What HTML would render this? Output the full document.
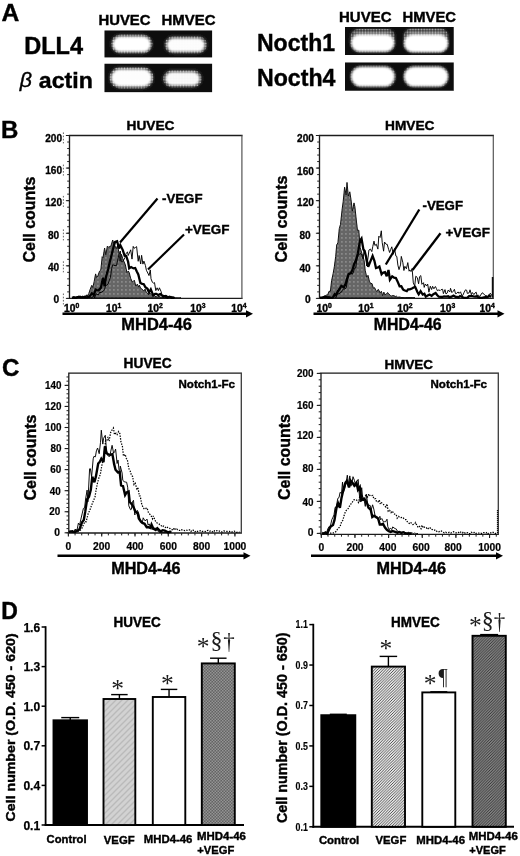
<!DOCTYPE html>
<html lang="en"><head><meta charset="utf-8"><title>Figure</title>
<style>
html,body{margin:0;padding:0;background:#fff;}
body{width:520px;height:856px;overflow:hidden;}
svg{display:block;font-family:"Liberation Sans", Arial, Helvetica, sans-serif;font-weight:bold;}
text{stroke:#000;stroke-width:0.4px;}
</style></head><body>
<svg width="520" height="856" viewBox="0 0 520 856">
<defs>
<filter id="b1" x="-20%" y="-40%" width="140%" height="180%"><feGaussianBlur stdDeviation="1.3"/></filter>
<filter id="b2" x="-20%" y="-40%" width="140%" height="180%"><feGaussianBlur stdDeviation="2.2"/></filter>
<filter id="b3" x="-20%" y="-40%" width="140%" height="180%"><feGaussianBlur stdDeviation="0.6"/></filter>
<pattern id="ht" width="2.8" height="2.8" patternUnits="userSpaceOnUse"><circle cx="1.4" cy="1.4" r="0.95" fill="#fff"/></pattern>
<filter id="soft" x="0" y="0" width="100%" height="100%" filterUnits="userSpaceOnUse"><feGaussianBlur stdDeviation="0.45"/></filter>
<clipPath id="cA1"><rect x="104.5" y="30.5" width="107.6" height="26.9"/></clipPath>
<clipPath id="cA2"><rect x="104.5" y="63.75" width="107.6" height="28.4"/></clipPath>
<clipPath id="cA3"><rect x="345" y="27" width="108.75" height="28"/></clipPath>
<clipPath id="cA4"><rect x="345" y="62.5" width="108.75" height="28.25"/></clipPath>
<pattern id="dots" width="4" height="4" patternUnits="userSpaceOnUse"><rect width="4" height="4" fill="#666"/><rect x="1.2" y="1.2" width="1.4" height="1.4" fill="#9c9c9c"/></pattern>
<pattern id="chk" width="3" height="3" patternUnits="userSpaceOnUse"><rect width="3" height="3" fill="#646464"/><rect width="1.5" height="1.5" fill="#949494"/><rect x="1.5" y="1.5" width="1.5" height="1.5" fill="#949494"/></pattern>
<pattern id="hL" width="6" height="6" patternUnits="userSpaceOnUse"><rect width="6" height="6" fill="#d2d2d2"/><path d="M-1.5,1.5 L1.5,-1.5 M-1,7 L7,-1 M4.5,7.5 L7.5,4.5" stroke="#bababa" stroke-width="1.4"/></pattern>
<pattern id="hM" width="2.8" height="2.8" patternUnits="userSpaceOnUse"><rect width="2.8" height="2.8" fill="#ebebeb"/><path d="M-0.7,0.7 L0.7,-0.7 M-0.5,3.3 L3.3,-0.5 M2.1,3.5 L3.5,2.1" stroke="#383838" stroke-width="0.85"/></pattern>
<pattern id="hD" width="2.8" height="2.8" patternUnits="userSpaceOnUse"><rect width="2.8" height="2.8" fill="#a0a0a0"/><path d="M-0.7,0.7 L0.7,-0.7 M-0.5,3.3 L3.3,-0.5 M2.1,3.5 L3.5,2.1" stroke="#2e2e2e" stroke-width="1.0"/></pattern>
</defs>
<rect width="520" height="856" fill="#fff"/>
<g filter="url(#soft)">
<text x="1.60" y="20.60" font-size="24.5" textLength="17.80" lengthAdjust="spacingAndGlyphs">A</text>
<text x="98.50" y="24.90" font-size="15" textLength="52.00" lengthAdjust="spacingAndGlyphs">HUVEC</text>
<text x="161.50" y="24.90" font-size="15" textLength="54.00" lengthAdjust="spacingAndGlyphs">HMVEC</text>
<text x="24.20" y="54.10" font-size="23.7" textLength="58.80" lengthAdjust="spacingAndGlyphs">DLL4</text>
<text x="19.8" y="87" font-size="20.5" font-weight="normal" font-style="italic" textLength="12.2" lengthAdjust="spacingAndGlyphs">β</text>
<text x="38.80" y="88.10" font-size="21.3" textLength="54.00" lengthAdjust="spacingAndGlyphs">actin</text>
<rect x="104.50" y="30.50" width="107.60" height="26.90" fill="#0a0a0a" />
<rect x="104.50" y="63.75" width="107.60" height="28.40" fill="#0a0a0a" />
<g clip-path="url(#cA1)">
<rect x="111.50" y="35.00" width="40.50" height="18.00" rx="9.00" fill="#fff" opacity="0.33" filter="url(#b2)"/>
<rect x="111.00" y="34.60" width="41.50" height="18.80" rx="9.40" fill="url(#ht)" opacity="0.75" filter="url(#b3)"/>
<rect x="165.00" y="36.50" width="41.50" height="16.50" rx="8.25" fill="#fff" opacity="0.30" filter="url(#b2)"/>
<rect x="164.50" y="36.10" width="42.50" height="17.30" rx="8.65" fill="url(#ht)" opacity="0.69" filter="url(#b3)"/>
<rect x="113.00" y="36.80" width="37.50" height="14.80" rx="7.40" fill="#fff" opacity="1.0" filter="url(#b1)"/>
<rect x="167.00" y="38.60" width="37.50" height="13.00" rx="6.50" fill="#fff" opacity="0.98" filter="url(#b1)"/>
</g><g clip-path="url(#cA2)">
<rect x="110.00" y="67.50" width="43.00" height="20.50" rx="10.25" fill="#fff" opacity="0.33" filter="url(#b2)"/>
<rect x="109.50" y="67.10" width="44.00" height="21.30" rx="10.65" fill="url(#ht)" opacity="0.75" filter="url(#b3)"/>
<rect x="163.50" y="70.50" width="38.00" height="16.50" rx="8.25" fill="#fff" opacity="0.30" filter="url(#b2)"/>
<rect x="163.00" y="70.10" width="39.00" height="17.30" rx="8.65" fill="url(#ht)" opacity="0.69" filter="url(#b3)"/>
<rect x="111.50" y="69.60" width="40.00" height="16.70" rx="8.35" fill="#fff" opacity="0.99" filter="url(#b1)"/>
<rect x="165.50" y="72.30" width="34.00" height="12.90" rx="6.45" fill="#fff" opacity="0.95" filter="url(#b1)"/>
</g>
<text x="339.00" y="22.30" font-size="15.3" textLength="52.50" lengthAdjust="spacingAndGlyphs">HUVEC</text>
<text x="402.50" y="22.30" font-size="15.3" textLength="53.50" lengthAdjust="spacingAndGlyphs">HMVEC</text>
<text x="257.00" y="51.30" font-size="23.5" textLength="78.00" lengthAdjust="spacingAndGlyphs">Nocth1</text>
<text x="257.00" y="86.30" font-size="23.5" textLength="78.50" lengthAdjust="spacingAndGlyphs">Nocth4</text>
<rect x="345.00" y="27.00" width="108.75" height="28.00" fill="#0a0a0a" />
<rect x="345.00" y="62.50" width="108.75" height="28.25" fill="#0a0a0a" />
<g clip-path="url(#cA3)">
<rect x="351.00" y="29.50" width="43.50" height="14.50" rx="7.25" fill="#fff" opacity="0.28" filter="url(#b2)"/>
<rect x="350.50" y="29.10" width="44.50" height="15.30" rx="7.65" fill="url(#ht)" opacity="0.62" filter="url(#b3)"/>
<rect x="404.00" y="29.00" width="44.00" height="15.00" rx="7.50" fill="#fff" opacity="0.28" filter="url(#b2)"/>
<rect x="403.50" y="28.60" width="45.00" height="15.80" rx="7.90" fill="url(#ht)" opacity="0.62" filter="url(#b3)"/>
<rect x="350.50" y="34.00" width="44.50" height="18.20" rx="9.10" fill="#fff" opacity="0.22" filter="url(#b2)"/>
<rect x="350.00" y="33.60" width="45.50" height="19.00" rx="9.50" fill="url(#ht)" opacity="0.50" filter="url(#b3)"/>
<rect x="403.50" y="34.00" width="45.00" height="18.80" rx="9.40" fill="#fff" opacity="0.22" filter="url(#b2)"/>
<rect x="403.00" y="33.60" width="46.00" height="19.60" rx="9.80" fill="url(#ht)" opacity="0.50" filter="url(#b3)"/>
<rect x="351.30" y="34.80" width="42.90" height="16.60" rx="8.30" fill="#fff" opacity="1.0" filter="url(#b1)"/>
<rect x="404.30" y="34.80" width="43.70" height="17.20" rx="8.60" fill="#fff" opacity="1.0" filter="url(#b1)"/>
</g><g clip-path="url(#cA4)">
<rect x="350.50" y="66.00" width="45.00" height="21.00" rx="10.50" fill="#fff" opacity="0.22" filter="url(#b2)"/>
<rect x="350.00" y="65.60" width="46.00" height="21.80" rx="10.90" fill="url(#ht)" opacity="0.50" filter="url(#b3)"/>
<rect x="403.50" y="66.00" width="45.00" height="21.00" rx="10.50" fill="#fff" opacity="0.22" filter="url(#b2)"/>
<rect x="403.00" y="65.60" width="46.00" height="21.80" rx="10.90" fill="url(#ht)" opacity="0.50" filter="url(#b3)"/>
<rect x="351.30" y="67.00" width="43.20" height="19.20" rx="9.60" fill="#fff" opacity="1.0" filter="url(#b1)"/>
<rect x="404.30" y="67.00" width="43.70" height="19.20" rx="9.60" fill="#fff" opacity="1.0" filter="url(#b1)"/>
</g>
<text x="1.00" y="137.50" font-size="24">B</text>
<path d="M241.90,135.50 L69.50,135.50 L69.50,298.40 L241.90,298.40" fill="none" stroke="#1a1a1a" stroke-width="1.3" stroke-linecap="square"/>
<line x1="241.90" y1="135.50" x2="241.90" y2="298.40" stroke="#555" stroke-width="1.2" />
<line x1="65.90" y1="298.40" x2="69.50" y2="298.40" stroke="#1a1a1a" stroke-width="1" />
<text x="59.20" y="303.15" font-size="10.2" text-anchor="end" style="stroke-width:0.3px">0</text>
<line x1="63.40" y1="293.50" x2="63.40" y2="304.50" stroke="#555" stroke-width="0.9" stroke-dasharray="1.6 1.6"/>
<line x1="65.90" y1="265.82" x2="69.50" y2="265.82" stroke="#1a1a1a" stroke-width="1" />
<text x="59.20" y="270.95" font-size="10.2" text-anchor="end" textLength="11.23" lengthAdjust="spacingAndGlyphs" style="stroke-width:0.3px">40</text>
<line x1="63.40" y1="261.30" x2="63.40" y2="272.30" stroke="#555" stroke-width="0.9" stroke-dasharray="1.6 1.6"/>
<line x1="65.90" y1="233.24" x2="69.50" y2="233.24" stroke="#1a1a1a" stroke-width="1" />
<text x="59.20" y="239.05" font-size="10.2" text-anchor="end" textLength="11.23" lengthAdjust="spacingAndGlyphs" style="stroke-width:0.3px">80</text>
<line x1="63.40" y1="229.40" x2="63.40" y2="240.40" stroke="#555" stroke-width="0.9" stroke-dasharray="1.6 1.6"/>
<line x1="65.90" y1="200.66" x2="69.50" y2="200.66" stroke="#1a1a1a" stroke-width="1" />
<text x="62.00" y="205.55" font-size="10.2" text-anchor="end" textLength="16.84" lengthAdjust="spacingAndGlyphs" style="stroke-width:0.3px">120</text>
<line x1="63.40" y1="195.90" x2="63.40" y2="206.90" stroke="#555" stroke-width="0.9" stroke-dasharray="1.6 1.6"/>
<line x1="65.90" y1="168.08" x2="69.50" y2="168.08" stroke="#1a1a1a" stroke-width="1" />
<text x="62.00" y="174.25" font-size="10.2" text-anchor="end" textLength="16.84" lengthAdjust="spacingAndGlyphs" style="stroke-width:0.3px">160</text>
<line x1="63.40" y1="164.60" x2="63.40" y2="175.60" stroke="#555" stroke-width="0.9" stroke-dasharray="1.6 1.6"/>
<line x1="65.90" y1="135.50" x2="69.50" y2="135.50" stroke="#1a1a1a" stroke-width="1" />
<text x="62.00" y="142.05" font-size="10.2" text-anchor="end" textLength="16.84" lengthAdjust="spacingAndGlyphs" style="stroke-width:0.3px">200</text>
<line x1="63.40" y1="132.40" x2="63.40" y2="143.40" stroke="#555" stroke-width="0.9" stroke-dasharray="1.6 1.6"/>
<line x1="67.20" y1="298.40" x2="69.50" y2="298.40" stroke="#222" stroke-width="1.0" />
<line x1="67.20" y1="291.88" x2="69.50" y2="291.88" stroke="#222" stroke-width="1.0" />
<line x1="67.20" y1="285.37" x2="69.50" y2="285.37" stroke="#222" stroke-width="1.0" />
<line x1="67.20" y1="278.85" x2="69.50" y2="278.85" stroke="#222" stroke-width="1.0" />
<line x1="67.20" y1="272.34" x2="69.50" y2="272.34" stroke="#222" stroke-width="1.0" />
<line x1="67.20" y1="265.82" x2="69.50" y2="265.82" stroke="#222" stroke-width="1.0" />
<line x1="67.20" y1="259.30" x2="69.50" y2="259.30" stroke="#222" stroke-width="1.0" />
<line x1="67.20" y1="252.79" x2="69.50" y2="252.79" stroke="#222" stroke-width="1.0" />
<line x1="67.20" y1="246.27" x2="69.50" y2="246.27" stroke="#222" stroke-width="1.0" />
<line x1="67.20" y1="239.76" x2="69.50" y2="239.76" stroke="#222" stroke-width="1.0" />
<line x1="67.20" y1="233.24" x2="69.50" y2="233.24" stroke="#222" stroke-width="1.0" />
<line x1="67.20" y1="226.72" x2="69.50" y2="226.72" stroke="#222" stroke-width="1.0" />
<line x1="67.20" y1="220.21" x2="69.50" y2="220.21" stroke="#222" stroke-width="1.0" />
<line x1="67.20" y1="213.69" x2="69.50" y2="213.69" stroke="#222" stroke-width="1.0" />
<line x1="67.20" y1="207.18" x2="69.50" y2="207.18" stroke="#222" stroke-width="1.0" />
<line x1="67.20" y1="200.66" x2="69.50" y2="200.66" stroke="#222" stroke-width="1.0" />
<line x1="67.20" y1="194.14" x2="69.50" y2="194.14" stroke="#222" stroke-width="1.0" />
<line x1="67.20" y1="187.63" x2="69.50" y2="187.63" stroke="#222" stroke-width="1.0" />
<line x1="67.20" y1="181.11" x2="69.50" y2="181.11" stroke="#222" stroke-width="1.0" />
<line x1="67.20" y1="174.60" x2="69.50" y2="174.60" stroke="#222" stroke-width="1.0" />
<line x1="67.20" y1="168.08" x2="69.50" y2="168.08" stroke="#222" stroke-width="1.0" />
<line x1="67.20" y1="161.56" x2="69.50" y2="161.56" stroke="#222" stroke-width="1.0" />
<line x1="67.20" y1="155.05" x2="69.50" y2="155.05" stroke="#222" stroke-width="1.0" />
<line x1="67.20" y1="148.53" x2="69.50" y2="148.53" stroke="#222" stroke-width="1.0" />
<line x1="67.20" y1="142.02" x2="69.50" y2="142.02" stroke="#222" stroke-width="1.0" />
<line x1="67.20" y1="135.50" x2="69.50" y2="135.50" stroke="#222" stroke-width="1.0" />
<text x="126.50" y="130.00" font-size="13.6" textLength="48.00" lengthAdjust="spacingAndGlyphs">HUVEC</text>
<text transform="translate(35.30,219.50) rotate(-90)" font-size="16.2" text-anchor="middle" textLength="86.00" lengthAdjust="spacingAndGlyphs">Cell counts</text>
<text x="64.00" y="312.00" font-size="10.3">10<tspan dy="-3.6" font-size="6.8">0</tspan></text>
<text x="106.00" y="312.00" font-size="10.3">10<tspan dy="-3.6" font-size="6.8">1</tspan></text>
<text x="147.60" y="312.00" font-size="10.3">10<tspan dy="-3.6" font-size="6.8">2</tspan></text>
<text x="190.30" y="312.00" font-size="10.3">10<tspan dy="-3.6" font-size="6.8">3</tspan></text>
<text x="231.20" y="312.00" font-size="10.3">10<tspan dy="-3.6" font-size="6.8">4</tspan></text>
<line x1="62.50" y1="313.80" x2="247.00" y2="313.80" stroke="#000" stroke-width="2.5" />
<polygon points="253.00,313.80 246.00,310.20 246.00,317.40" fill="#000"/>
<text x="121.30" y="330.20" font-size="16.7" textLength="70.50" lengthAdjust="spacingAndGlyphs">MHD4-46</text>
<polygon points="76.0,297.8 76.0,297.8 77.4,297.6 78.5,297.4 80.2,296.9 81.2,297.6 82.6,296.9 84.1,297.2 85.3,296.4 86.4,295.2 87.9,295.4 88.8,293.5 90.2,289.3 91.8,285.3 92.8,287.5 94.2,281.4 95.6,273.9 96.6,277.5 97.8,276.1 99.5,271.2 100.8,270.0 102.2,256.7 103.0,257.7 104.6,248.0 105.8,254.8 107.4,246.0 108.7,247.4 110.0,246.3 110.8,246.3 112.7,240.0 113.9,244.0 114.9,245.9 116.3,248.7 117.6,245.4 119.0,253.2 120.0,261.1 121.4,254.3 122.7,258.4 124.0,261.5 125.4,265.0 126.9,272.6 128.3,271.0 129.3,272.9 130.6,278.2 132.2,281.8 133.0,281.7 134.3,280.2 135.8,286.0 137.4,284.1 138.5,287.1 139.4,285.1 140.7,288.4 142.2,289.2 143.7,291.1 145.1,289.1 146.3,292.3 147.2,293.2 148.8,294.5 149.9,293.2 151.5,294.7 152.5,295.4 153.7,294.9 155.0,296.3 156.4,296.6 157.7,296.9 159.2,296.3 160.6,297.2 161.6,297.2 163.3,297.6 164.2,297.1 165.9,297.8 166.8,297.2 168.5,297.5 169.8,297.6 170.9,297.6 172.1,297.7 173.4,297.7 174.8,297.8 174.8,297.8" fill="url(#dots)" stroke="#111" stroke-width="1.0" stroke-linejoin="miter" stroke-miterlimit="3" />
<polyline points="72.0,297.5 73.1,297.8 74.3,297.6 75.4,297.8 76.6,297.2 78.1,297.8 79.5,296.5 80.7,296.2 81.7,297.8 82.6,295.8 84.0,297.6 85.0,297.1 86.5,295.3 87.7,296.4 88.9,297.4 90.2,296.9 91.2,297.8 92.6,297.3 93.6,295.8 94.6,297.8 96.0,293.9 97.0,294.2 98.3,295.0 99.7,292.2 101.0,292.7 101.9,291.9 103.2,291.3 104.5,289.6 105.8,284.7 106.7,285.4 108.2,283.7 109.3,280.5 110.5,277.2 111.6,268.5 112.8,264.7 113.8,265.3 115.1,265.5 116.5,265.5 117.7,260.1 118.6,255.6 120.3,251.0 121.3,261.9 122.6,262.0 123.5,260.3 125.1,257.3 125.9,253.9 127.5,251.8 128.2,255.5 129.8,251.9 130.7,249.8 132.0,259.1 133.2,246.4 134.1,248.3 135.7,247.3 136.6,246.6 138.2,261.3 139.1,255.5 140.7,264.0 141.6,255.3 142.9,264.1 143.9,261.1 145.4,265.4 146.4,270.3 147.8,273.0 149.0,275.6 150.3,269.9 151.0,278.8 152.4,282.3 153.5,283.1 154.5,282.6 155.8,290.6 157.1,287.8 158.4,290.6 159.4,287.8 161.0,291.3 161.9,294.6 162.9,297.6 164.2,296.0 165.6,297.1 166.7,295.3 167.9,296.7 169.2,297.1 170.6,296.9 171.6,296.4 172.8,297.6 174.1,297.6 175.4,297.6 176.6,297.6 177.7,297.7 178.6,297.7 179.7,297.7 181.0,297.7" fill="none" stroke="#000" stroke-width="0.95" stroke-linejoin="miter" stroke-miterlimit="3" />
<polyline points="72.0,297.8 73.8,297.3 75.5,297.7 77.7,297.2 78.9,296.7 80.9,297.2 82.6,297.6 84.8,296.8 86.1,297.3 88.5,296.9 89.6,296.4 91.9,293.4 93.9,294.9 95.6,289.6 96.9,290.1 98.6,290.3 101.0,287.6 103.0,277.7 104.6,286.2 106.0,276.9 108.2,269.1 110.0,261.0 111.5,255.2 113.5,247.1 115.1,241.9 117.1,241.2 119.0,248.5 120.3,245.1 122.8,250.1 124.6,255.8 126.2,256.0 128.1,261.7 129.2,268.4 131.1,267.1 133.5,268.4 135.2,268.0 136.8,271.5 138.3,274.4 140.4,283.0 142.2,283.8 143.8,284.2 145.4,287.2 147.5,288.8 149.0,292.5 150.8,289.3 153.2,295.4 155.1,293.8 156.3,293.8 158.1,295.0 160.2,294.1 161.7,295.2 164.1,296.4 165.7,296.1 167.3,297.6 169.6,296.7 171.2,297.6 172.5,297.5 174.3,297.7" fill="none" stroke="#000" stroke-width="2.3" stroke-linejoin="miter" stroke-miterlimit="3" />
<line x1="157.50" y1="198.50" x2="120.00" y2="242.50" stroke="#000" stroke-width="2.2" />
<line x1="184.00" y1="234.50" x2="148.00" y2="269.50" stroke="#000" stroke-width="2.2" />
<text x="162.00" y="203.20" font-size="13.7" textLength="40.50" lengthAdjust="spacingAndGlyphs">-VEGF</text>
<text x="185.00" y="233.80" font-size="13.7" textLength="44.50" lengthAdjust="spacingAndGlyphs">+VEGF</text>
<path d="M493.30,135.50 L319.50,135.50 L319.50,298.40 L493.30,298.40" fill="none" stroke="#1a1a1a" stroke-width="1.3" stroke-linecap="square"/>
<line x1="493.30" y1="135.50" x2="493.30" y2="298.40" stroke="#555" stroke-width="1.2" />
<line x1="315.90" y1="298.40" x2="319.50" y2="298.40" stroke="#1a1a1a" stroke-width="1" />
<text x="310.70" y="303.15" font-size="10.2" text-anchor="end" style="stroke-width:0.3px">0</text>
<line x1="315.90" y1="265.82" x2="319.50" y2="265.82" stroke="#1a1a1a" stroke-width="1" />
<text x="310.70" y="271.65" font-size="10.2" text-anchor="end" textLength="11.23" lengthAdjust="spacingAndGlyphs" style="stroke-width:0.3px">40</text>
<line x1="315.90" y1="233.24" x2="319.50" y2="233.24" stroke="#1a1a1a" stroke-width="1" />
<text x="310.70" y="239.15" font-size="10.2" text-anchor="end" textLength="11.23" lengthAdjust="spacingAndGlyphs" style="stroke-width:0.3px">80</text>
<line x1="315.90" y1="200.66" x2="319.50" y2="200.66" stroke="#1a1a1a" stroke-width="1" />
<text x="313.90" y="205.55" font-size="10.2" text-anchor="end" textLength="16.84" lengthAdjust="spacingAndGlyphs" style="stroke-width:0.3px">120</text>
<line x1="315.90" y1="168.08" x2="319.50" y2="168.08" stroke="#1a1a1a" stroke-width="1" />
<text x="313.90" y="174.75" font-size="10.2" text-anchor="end" textLength="16.84" lengthAdjust="spacingAndGlyphs" style="stroke-width:0.3px">160</text>
<line x1="315.90" y1="135.50" x2="319.50" y2="135.50" stroke="#1a1a1a" stroke-width="1" />
<text x="313.90" y="142.05" font-size="10.2" text-anchor="end" textLength="16.84" lengthAdjust="spacingAndGlyphs" style="stroke-width:0.3px">200</text>
<line x1="317.20" y1="298.40" x2="319.50" y2="298.40" stroke="#222" stroke-width="1.0" />
<line x1="317.20" y1="291.88" x2="319.50" y2="291.88" stroke="#222" stroke-width="1.0" />
<line x1="317.20" y1="285.37" x2="319.50" y2="285.37" stroke="#222" stroke-width="1.0" />
<line x1="317.20" y1="278.85" x2="319.50" y2="278.85" stroke="#222" stroke-width="1.0" />
<line x1="317.20" y1="272.34" x2="319.50" y2="272.34" stroke="#222" stroke-width="1.0" />
<line x1="317.20" y1="265.82" x2="319.50" y2="265.82" stroke="#222" stroke-width="1.0" />
<line x1="317.20" y1="259.30" x2="319.50" y2="259.30" stroke="#222" stroke-width="1.0" />
<line x1="317.20" y1="252.79" x2="319.50" y2="252.79" stroke="#222" stroke-width="1.0" />
<line x1="317.20" y1="246.27" x2="319.50" y2="246.27" stroke="#222" stroke-width="1.0" />
<line x1="317.20" y1="239.76" x2="319.50" y2="239.76" stroke="#222" stroke-width="1.0" />
<line x1="317.20" y1="233.24" x2="319.50" y2="233.24" stroke="#222" stroke-width="1.0" />
<line x1="317.20" y1="226.72" x2="319.50" y2="226.72" stroke="#222" stroke-width="1.0" />
<line x1="317.20" y1="220.21" x2="319.50" y2="220.21" stroke="#222" stroke-width="1.0" />
<line x1="317.20" y1="213.69" x2="319.50" y2="213.69" stroke="#222" stroke-width="1.0" />
<line x1="317.20" y1="207.18" x2="319.50" y2="207.18" stroke="#222" stroke-width="1.0" />
<line x1="317.20" y1="200.66" x2="319.50" y2="200.66" stroke="#222" stroke-width="1.0" />
<line x1="317.20" y1="194.14" x2="319.50" y2="194.14" stroke="#222" stroke-width="1.0" />
<line x1="317.20" y1="187.63" x2="319.50" y2="187.63" stroke="#222" stroke-width="1.0" />
<line x1="317.20" y1="181.11" x2="319.50" y2="181.11" stroke="#222" stroke-width="1.0" />
<line x1="317.20" y1="174.60" x2="319.50" y2="174.60" stroke="#222" stroke-width="1.0" />
<line x1="317.20" y1="168.08" x2="319.50" y2="168.08" stroke="#222" stroke-width="1.0" />
<line x1="317.20" y1="161.56" x2="319.50" y2="161.56" stroke="#222" stroke-width="1.0" />
<line x1="317.20" y1="155.05" x2="319.50" y2="155.05" stroke="#222" stroke-width="1.0" />
<line x1="317.20" y1="148.53" x2="319.50" y2="148.53" stroke="#222" stroke-width="1.0" />
<line x1="317.20" y1="142.02" x2="319.50" y2="142.02" stroke="#222" stroke-width="1.0" />
<line x1="317.20" y1="135.50" x2="319.50" y2="135.50" stroke="#222" stroke-width="1.0" />
<text x="385.00" y="130.00" font-size="13.6" textLength="49.50" lengthAdjust="spacingAndGlyphs">HMVEC</text>
<text transform="translate(287.30,219.00) rotate(-90)" font-size="16.2" text-anchor="middle" textLength="87.00" lengthAdjust="spacingAndGlyphs">Cell counts</text>
<text x="316.60" y="312.00" font-size="10.3">10<tspan dy="-3.6" font-size="6.8">0</tspan></text>
<text x="358.20" y="312.00" font-size="10.3">10<tspan dy="-3.6" font-size="6.8">1</tspan></text>
<text x="397.20" y="312.00" font-size="10.3">10<tspan dy="-3.6" font-size="6.8">2</tspan></text>
<text x="440.00" y="312.00" font-size="10.3">10<tspan dy="-3.6" font-size="6.8">3</tspan></text>
<text x="479.60" y="312.00" font-size="10.3">10<tspan dy="-3.6" font-size="6.8">4</tspan></text>
<line x1="313.50" y1="313.80" x2="498.50" y2="313.80" stroke="#000" stroke-width="2.5" />
<polygon points="504.50,313.80 497.50,310.20 497.50,317.40" fill="#000"/>
<text x="373.80" y="330.20" font-size="16.7" textLength="67.80" lengthAdjust="spacingAndGlyphs">MHD4-46</text>
<polygon points="320.0,297.8 320.0,297.8 321.3,297.6 322.7,297.4 323.9,296.1 325.2,295.8 326.4,295.1 327.7,294.9 329.0,291.3 330.4,291.3 331.6,280.6 333.1,273.7 334.3,266.9 335.7,256.3 336.7,244.8 337.9,242.9 339.3,228.5 340.5,224.3 342.2,208.8 343.2,201.4 344.6,187.2 346.1,195.0 347.0,182.4 348.3,196.0 349.8,191.8 351.0,199.7 352.4,211.1 354.0,202.9 354.9,206.9 356.5,222.0 357.5,230.5 358.8,230.2 360.1,247.3 361.9,253.4 363.0,256.6 364.1,260.3 365.2,270.3 366.7,277.2 368.0,275.3 369.4,281.2 370.6,283.5 372.0,283.5 373.3,288.1 374.7,287.7 375.7,290.3 377.0,291.5 378.3,289.3 380.1,292.9 381.4,291.2 382.5,295.6 383.9,292.1 384.7,294.7 386.6,294.0 387.6,292.5 388.6,293.6 390.4,295.6 391.5,296.0 392.9,295.5 394.0,295.8 395.7,296.5 396.5,296.2 397.8,297.4 399.0,297.0 400.7,297.3 401.9,297.6 403.2,297.6 404.7,297.8 405.8,297.8 407.3,297.5 408.1,297.6 409.9,297.6 410.9,297.7 412.3,297.7 413.4,297.7 415.0,297.8 415.0,297.8" fill="url(#dots)" stroke="#111" stroke-width="1.0" stroke-linejoin="miter" stroke-miterlimit="3" />
<polyline points="320.0,297.5 321.3,297.2 322.1,297.7 323.7,297.6 325.1,297.3 326.3,296.8 327.1,296.9 328.1,296.7 329.6,297.4 330.8,297.4 332.1,297.8 333.3,296.3 334.1,295.8 335.9,297.7 336.5,295.8 338.0,293.4 339.0,294.2 340.6,292.2 341.5,292.1 342.6,289.6 343.8,289.1 344.9,289.0 346.2,287.8 347.5,280.0 348.8,273.1 350.3,273.7 351.4,272.0 352.3,274.3 353.3,272.6 354.5,268.3 355.7,268.0 356.9,259.1 358.2,255.0 359.6,254.2 360.9,253.5 362.0,255.6 363.1,259.0 364.1,249.8 365.4,254.4 366.7,266.0 368.1,257.2 368.9,250.1 370.4,249.1 371.8,251.6 372.8,246.4 374.0,241.1 374.9,245.5 376.3,244.2 377.9,249.1 378.8,236.2 380.1,237.5 381.3,230.8 382.2,242.4 383.6,251.2 384.5,242.0 386.2,244.3 387.2,244.3 388.6,249.3 389.6,252.5 390.6,249.6 391.8,246.8 393.2,254.3 394.5,248.6 395.9,256.1 396.8,256.5 397.9,265.2 399.0,269.6 400.5,264.9 401.3,256.4 402.9,262.8 403.9,270.5 404.9,266.3 406.4,268.8 407.8,262.6 409.1,271.2 409.8,269.9 411.0,271.6 412.1,268.5 413.3,282.9 414.7,286.0 415.8,276.2 417.3,277.6 418.6,283.8 419.6,276.6 420.8,275.6 421.9,284.3 423.5,282.7 424.2,287.4 425.3,284.0 426.7,285.9 427.7,284.1 428.9,292.2 430.3,286.2 431.6,289.5 432.6,286.3 433.9,288.8 435.4,286.5 436.5,288.7 437.3,290.7 438.9,289.9 440.1,290.6 441.0,289.7 442.6,289.3 443.4,293.6 445.0,289.6 446.0,294.0 447.4,292.8 448.1,290.1 449.9,291.8 450.5,288.3 451.9,292.6 453.4,291.1 454.4,289.3 455.5,293.7 456.8,293.3 458.1,291.9 459.0,293.4 460.5,291.8 461.9,295.8 462.9,295.2 464.2,292.2 465.5,289.8 466.7,290.3 467.3,293.4 469.1,292.9 470.0,289.8 471.4,294.6 472.3,292.5 473.9,294.6 475.0,293.0 476.2,292.2 477.2,295.8 478.5,295.2 479.7,296.6 480.7,295.0 482.2,292.8 483.1,293.2 484.6,295.0 485.9,295.7 486.6,295.6 488.0,297.2 489.5,295.9 490.2,293.2 491.5,294.6 492.6,296.9" fill="none" stroke="#000" stroke-width="0.95" stroke-linejoin="miter" stroke-miterlimit="3" />
<polyline points="320.0,297.7 321.6,297.8 323.4,297.0 325.3,296.8 327.1,297.5 329.4,297.4 330.7,297.8 332.8,297.7 334.6,294.1 336.0,295.0 337.9,291.2 339.7,288.8 341.3,285.8 343.8,287.3 345.6,283.8 347.1,278.7 348.6,274.1 350.9,273.1 352.6,269.6 354.1,264.2 356.0,260.3 357.8,253.7 360.0,240.7 361.5,238.5 363.4,249.5 364.6,250.9 366.6,258.9 368.2,266.7 370.1,262.1 372.6,255.9 374.4,260.8 376.0,268.0 377.8,267.5 379.4,266.5 381.6,274.2 382.9,272.8 385.0,272.1 386.7,276.2 388.5,270.0 389.9,279.7 392.2,276.3 394.1,277.7 395.9,278.0 397.3,280.9 399.6,286.3 401.3,286.2 403.0,289.4 404.3,290.2 406.8,291.2 408.1,289.4 409.8,289.4 411.9,288.5 413.6,287.5 415.2,286.9 417.5,292.2 418.7,294.3 420.6,291.2 422.7,294.5 424.4,293.7 425.8,296.7 427.7,295.6 429.5,294.6 431.6,295.8 433.4,294.1 435.6,293.0 437.1,295.0 438.8,296.7 441.0,296.9 442.8,296.8 444.0,296.4 446.2,296.7 448.2,296.3 449.4,297.2 451.6,296.7 453.5,295.6 455.4,296.8 457.1,296.8 458.5,297.3 460.0,296.1 461.8,296.8 463.6,297.8 465.9,297.8 467.5,297.6 469.1,296.1 471.5,295.8 473.3,296.4 475.0,296.6 476.9,296.3 478.3,297.3 480.4,297.8 482.1,297.8 483.9,297.3 485.4,297.2 487.5,297.2 489.1,295.5 491.0,297.0" fill="none" stroke="#000" stroke-width="2.3" stroke-linejoin="miter" stroke-miterlimit="3" />
<line x1="492.60" y1="277.00" x2="492.60" y2="297.80" stroke="#111" stroke-width="1.6" />
<line x1="419.30" y1="209.50" x2="385.80" y2="264.50" stroke="#000" stroke-width="2.3" />
<line x1="440.50" y1="233.20" x2="412.50" y2="270.00" stroke="#000" stroke-width="2.3" />
<text x="422.50" y="209.60" font-size="13.7" textLength="40.50" lengthAdjust="spacingAndGlyphs">-VEGF</text>
<text x="445.50" y="237.00" font-size="13.7" textLength="44.50" lengthAdjust="spacingAndGlyphs">+VEGF</text>
<text x="1.90" y="376.20" font-size="24.2">C</text>
<path d="M241.30,373.20 L68.80,373.20 L68.80,533.00 L241.30,533.00" fill="none" stroke="#1a1a1a" stroke-width="1.3" stroke-linecap="square"/>
<line x1="241.30" y1="373.20" x2="241.30" y2="533.00" stroke="#3a3a3a" stroke-width="1.3" />
<line x1="64.60" y1="532.80" x2="68.80" y2="532.80" stroke="#1a1a1a" stroke-width="1.1" />
<text x="59.90" y="535.69" font-size="10.3" text-anchor="end" style="stroke-width:0.22px">0</text>
<line x1="64.60" y1="511.74" x2="68.80" y2="511.74" stroke="#1a1a1a" stroke-width="1.1" />
<text x="60.20" y="515.49" font-size="10.3" text-anchor="end" textLength="11.00" lengthAdjust="spacingAndGlyphs" style="stroke-width:0.22px">20</text>
<line x1="64.60" y1="490.68" x2="68.80" y2="490.68" stroke="#1a1a1a" stroke-width="1.1" />
<text x="60.80" y="494.79" font-size="10.3" text-anchor="end" textLength="11.00" lengthAdjust="spacingAndGlyphs" style="stroke-width:0.22px">40</text>
<line x1="64.60" y1="469.62" x2="68.80" y2="469.62" stroke="#1a1a1a" stroke-width="1.1" />
<text x="61.20" y="473.29" font-size="10.3" text-anchor="end" textLength="11.00" lengthAdjust="spacingAndGlyphs" style="stroke-width:0.22px">60</text>
<line x1="64.60" y1="448.56" x2="68.80" y2="448.56" stroke="#1a1a1a" stroke-width="1.1" />
<text x="61.50" y="452.29" font-size="10.3" text-anchor="end" textLength="11.00" lengthAdjust="spacingAndGlyphs" style="stroke-width:0.22px">80</text>
<line x1="64.60" y1="427.50" x2="68.80" y2="427.50" stroke="#1a1a1a" stroke-width="1.1" />
<text x="61.50" y="431.19" font-size="10.3" text-anchor="end" textLength="16.49" lengthAdjust="spacingAndGlyphs" style="stroke-width:0.22px">100</text>
<line x1="64.60" y1="406.44" x2="68.80" y2="406.44" stroke="#1a1a1a" stroke-width="1.1" />
<text x="61.50" y="410.09" font-size="10.3" text-anchor="end" textLength="16.49" lengthAdjust="spacingAndGlyphs" style="stroke-width:0.22px">120</text>
<line x1="64.60" y1="385.38" x2="68.80" y2="385.38" stroke="#1a1a1a" stroke-width="1.1" />
<text x="61.50" y="389.19" font-size="10.3" text-anchor="end" textLength="16.49" lengthAdjust="spacingAndGlyphs" style="stroke-width:0.22px">140</text>
<line x1="66.50" y1="532.80" x2="68.80" y2="532.80" stroke="#222" stroke-width="1.0" />
<line x1="66.50" y1="528.59" x2="68.80" y2="528.59" stroke="#222" stroke-width="1.0" />
<line x1="66.50" y1="524.38" x2="68.80" y2="524.38" stroke="#222" stroke-width="1.0" />
<line x1="66.50" y1="520.16" x2="68.80" y2="520.16" stroke="#222" stroke-width="1.0" />
<line x1="66.50" y1="515.95" x2="68.80" y2="515.95" stroke="#222" stroke-width="1.0" />
<line x1="66.50" y1="511.74" x2="68.80" y2="511.74" stroke="#222" stroke-width="1.0" />
<line x1="66.50" y1="507.53" x2="68.80" y2="507.53" stroke="#222" stroke-width="1.0" />
<line x1="66.50" y1="503.32" x2="68.80" y2="503.32" stroke="#222" stroke-width="1.0" />
<line x1="66.50" y1="499.10" x2="68.80" y2="499.10" stroke="#222" stroke-width="1.0" />
<line x1="66.50" y1="494.89" x2="68.80" y2="494.89" stroke="#222" stroke-width="1.0" />
<line x1="66.50" y1="490.68" x2="68.80" y2="490.68" stroke="#222" stroke-width="1.0" />
<line x1="66.50" y1="486.47" x2="68.80" y2="486.47" stroke="#222" stroke-width="1.0" />
<line x1="66.50" y1="482.26" x2="68.80" y2="482.26" stroke="#222" stroke-width="1.0" />
<line x1="66.50" y1="478.04" x2="68.80" y2="478.04" stroke="#222" stroke-width="1.0" />
<line x1="66.50" y1="473.83" x2="68.80" y2="473.83" stroke="#222" stroke-width="1.0" />
<line x1="66.50" y1="469.62" x2="68.80" y2="469.62" stroke="#222" stroke-width="1.0" />
<line x1="66.50" y1="465.41" x2="68.80" y2="465.41" stroke="#222" stroke-width="1.0" />
<line x1="66.50" y1="461.20" x2="68.80" y2="461.20" stroke="#222" stroke-width="1.0" />
<line x1="66.50" y1="456.98" x2="68.80" y2="456.98" stroke="#222" stroke-width="1.0" />
<line x1="66.50" y1="452.77" x2="68.80" y2="452.77" stroke="#222" stroke-width="1.0" />
<line x1="66.50" y1="448.56" x2="68.80" y2="448.56" stroke="#222" stroke-width="1.0" />
<line x1="66.50" y1="444.35" x2="68.80" y2="444.35" stroke="#222" stroke-width="1.0" />
<line x1="66.50" y1="440.14" x2="68.80" y2="440.14" stroke="#222" stroke-width="1.0" />
<line x1="66.50" y1="435.92" x2="68.80" y2="435.92" stroke="#222" stroke-width="1.0" />
<line x1="66.50" y1="431.71" x2="68.80" y2="431.71" stroke="#222" stroke-width="1.0" />
<line x1="66.50" y1="427.50" x2="68.80" y2="427.50" stroke="#222" stroke-width="1.0" />
<line x1="66.50" y1="423.29" x2="68.80" y2="423.29" stroke="#222" stroke-width="1.0" />
<line x1="66.50" y1="419.08" x2="68.80" y2="419.08" stroke="#222" stroke-width="1.0" />
<line x1="66.50" y1="414.86" x2="68.80" y2="414.86" stroke="#222" stroke-width="1.0" />
<line x1="66.50" y1="410.65" x2="68.80" y2="410.65" stroke="#222" stroke-width="1.0" />
<line x1="66.50" y1="406.44" x2="68.80" y2="406.44" stroke="#222" stroke-width="1.0" />
<line x1="66.50" y1="402.23" x2="68.80" y2="402.23" stroke="#222" stroke-width="1.0" />
<line x1="66.50" y1="398.02" x2="68.80" y2="398.02" stroke="#222" stroke-width="1.0" />
<line x1="66.50" y1="393.80" x2="68.80" y2="393.80" stroke="#222" stroke-width="1.0" />
<line x1="66.50" y1="389.59" x2="68.80" y2="389.59" stroke="#222" stroke-width="1.0" />
<line x1="66.50" y1="385.38" x2="68.80" y2="385.38" stroke="#222" stroke-width="1.0" />
<line x1="66.50" y1="381.17" x2="68.80" y2="381.17" stroke="#222" stroke-width="1.0" />
<line x1="66.50" y1="376.96" x2="68.80" y2="376.96" stroke="#222" stroke-width="1.0" />
<line x1="68.40" y1="533.00" x2="68.40" y2="536.60" stroke="#1a1a1a" stroke-width="1.1" />
<text x="68.40" y="550.19" font-size="10.3" text-anchor="middle" style="stroke-width:0.22px">0</text>
<line x1="101.70" y1="533.00" x2="101.70" y2="536.60" stroke="#1a1a1a" stroke-width="1.1" />
<text x="101.70" y="550.19" font-size="10.3" text-anchor="middle" textLength="17.18" lengthAdjust="spacingAndGlyphs" style="stroke-width:0.22px">200</text>
<line x1="135.00" y1="533.00" x2="135.00" y2="536.60" stroke="#1a1a1a" stroke-width="1.1" />
<text x="135.00" y="550.19" font-size="10.3" text-anchor="middle" textLength="17.18" lengthAdjust="spacingAndGlyphs" style="stroke-width:0.22px">400</text>
<line x1="168.30" y1="533.00" x2="168.30" y2="536.60" stroke="#1a1a1a" stroke-width="1.1" />
<text x="168.30" y="550.19" font-size="10.3" text-anchor="middle" textLength="17.18" lengthAdjust="spacingAndGlyphs" style="stroke-width:0.22px">600</text>
<line x1="201.60" y1="533.00" x2="201.60" y2="536.60" stroke="#1a1a1a" stroke-width="1.1" />
<text x="201.60" y="550.19" font-size="10.3" text-anchor="middle" textLength="17.18" lengthAdjust="spacingAndGlyphs" style="stroke-width:0.22px">800</text>
<line x1="234.90" y1="533.00" x2="234.90" y2="536.60" stroke="#1a1a1a" stroke-width="1.1" />
<text x="234.90" y="550.19" font-size="10.3" text-anchor="middle" textLength="22.91" lengthAdjust="spacingAndGlyphs" style="stroke-width:0.22px">1000</text>
<line x1="68.40" y1="533.00" x2="68.40" y2="535.40" stroke="#222" stroke-width="1.0" />
<line x1="75.06" y1="533.00" x2="75.06" y2="535.40" stroke="#222" stroke-width="1.0" />
<line x1="81.72" y1="533.00" x2="81.72" y2="535.40" stroke="#222" stroke-width="1.0" />
<line x1="88.38" y1="533.00" x2="88.38" y2="535.40" stroke="#222" stroke-width="1.0" />
<line x1="95.04" y1="533.00" x2="95.04" y2="535.40" stroke="#222" stroke-width="1.0" />
<line x1="101.70" y1="533.00" x2="101.70" y2="535.40" stroke="#222" stroke-width="1.0" />
<line x1="108.36" y1="533.00" x2="108.36" y2="535.40" stroke="#222" stroke-width="1.0" />
<line x1="115.02" y1="533.00" x2="115.02" y2="535.40" stroke="#222" stroke-width="1.0" />
<line x1="121.68" y1="533.00" x2="121.68" y2="535.40" stroke="#222" stroke-width="1.0" />
<line x1="128.34" y1="533.00" x2="128.34" y2="535.40" stroke="#222" stroke-width="1.0" />
<line x1="135.00" y1="533.00" x2="135.00" y2="535.40" stroke="#222" stroke-width="1.0" />
<line x1="141.66" y1="533.00" x2="141.66" y2="535.40" stroke="#222" stroke-width="1.0" />
<line x1="148.32" y1="533.00" x2="148.32" y2="535.40" stroke="#222" stroke-width="1.0" />
<line x1="154.98" y1="533.00" x2="154.98" y2="535.40" stroke="#222" stroke-width="1.0" />
<line x1="161.64" y1="533.00" x2="161.64" y2="535.40" stroke="#222" stroke-width="1.0" />
<line x1="168.30" y1="533.00" x2="168.30" y2="535.40" stroke="#222" stroke-width="1.0" />
<line x1="174.96" y1="533.00" x2="174.96" y2="535.40" stroke="#222" stroke-width="1.0" />
<line x1="181.62" y1="533.00" x2="181.62" y2="535.40" stroke="#222" stroke-width="1.0" />
<line x1="188.28" y1="533.00" x2="188.28" y2="535.40" stroke="#222" stroke-width="1.0" />
<line x1="194.94" y1="533.00" x2="194.94" y2="535.40" stroke="#222" stroke-width="1.0" />
<line x1="201.60" y1="533.00" x2="201.60" y2="535.40" stroke="#222" stroke-width="1.0" />
<line x1="208.26" y1="533.00" x2="208.26" y2="535.40" stroke="#222" stroke-width="1.0" />
<line x1="214.92" y1="533.00" x2="214.92" y2="535.40" stroke="#222" stroke-width="1.0" />
<line x1="221.58" y1="533.00" x2="221.58" y2="535.40" stroke="#222" stroke-width="1.0" />
<line x1="228.24" y1="533.00" x2="228.24" y2="535.40" stroke="#222" stroke-width="1.0" />
<line x1="234.90" y1="533.00" x2="234.90" y2="535.40" stroke="#222" stroke-width="1.0" />
<text x="123.60" y="368.40" font-size="13.8" textLength="48.00" lengthAdjust="spacingAndGlyphs">HUVEC</text>
<text x="178.50" y="388.40" font-size="10.8" textLength="56.50" lengthAdjust="spacingAndGlyphs">Notch1-Fc</text>
<text transform="translate(35.90,457.50) rotate(-90)" font-size="15.8" text-anchor="middle" textLength="86.00" lengthAdjust="spacingAndGlyphs">Cell counts</text>
<line x1="57.50" y1="555.80" x2="244.50" y2="555.80" stroke="#000" stroke-width="2.5" />
<polygon points="250.50,555.80 243.50,552.20 243.50,559.40" fill="#000"/>
<text x="111.20" y="573.80" font-size="16.7" textLength="69.30" lengthAdjust="spacingAndGlyphs">MHD4-46</text>
<polyline points="69.0,532.4 70.2,532.2 71.6,532.4 73.2,532.4 73.9,531.9 75.5,532.4 76.7,530.2 77.9,531.6 79.5,530.0 80.5,530.0 81.8,528.5 83.2,525.3 84.9,521.5 86.1,521.7 87.3,517.1 88.3,512.9 89.6,510.9 91.4,505.8 92.6,502.8 93.6,500.3 95.0,497.0 96.1,489.9 97.4,483.4 99.0,477.4 100.3,474.6 101.4,468.0 102.9,460.3 104.4,451.9 105.6,440.6 106.9,440.8 108.0,436.9 109.1,441.1 110.6,432.6 111.8,430.4 113.4,428.0 114.5,434.6 116.0,433.1 117.1,434.6 118.6,431.6 119.9,433.6 120.9,441.6 122.5,446.9 123.4,456.1 125.1,454.4 126.3,458.2 127.5,460.6 128.8,468.6 130.3,471.3 131.3,474.9 132.6,476.5 134.0,484.6 135.2,483.2 136.9,488.9 137.9,487.6 139.4,495.9 140.2,496.0 141.6,503.6 142.8,507.1 144.4,509.2 145.9,508.4 147.0,507.9 148.5,512.6 149.6,514.0 150.8,515.0 152.5,518.7 153.3,516.0 154.9,519.9 156.0,522.3 157.4,523.1 159.0,523.8 159.9,525.2 161.4,525.7 162.4,526.9 163.6,526.1 165.3,527.5 166.5,526.5 167.9,527.7 169.3,527.9 170.5,529.0 171.7,529.4 173.2,530.3 174.1,527.8 175.6,529.7 176.8,529.1 178.1,530.3 179.8,530.4 180.7,529.5 182.0,529.9 183.4,530.4 184.9,530.7 186.2,530.0 187.3,530.4 188.6,529.9 189.6,529.9 190.9,531.5 192.6,529.8 194.0,530.8 194.8,531.8 196.7,530.8 197.4,531.4 199.2,531.3 200.6,530.6 201.9,531.3 203.2,531.4 204.2,531.3 205.4,531.6 206.8,530.6 208.3,530.5 209.7,531.2 211.0,530.7 211.8,531.1 213.1,532.3 214.6,530.8 215.6,531.2 217.0,530.6 218.3,530.6 220.0,531.4 221.3,531.6 222.1,532.0 223.6,531.0 224.9,531.2 226.5,531.4 227.7,531.3 229.2,531.3 230.3,531.7 231.4,532.3 232.6,531.7 234.3,531.1 235.7,531.8 236.4,532.4 238.3,532.1 239.6,532.2" fill="none" stroke="#000" stroke-width="1.25" stroke-linejoin="miter" stroke-miterlimit="3" stroke-dasharray="1.4 1.3"/>
<polyline points="69.0,532.1 70.4,531.8 71.5,531.7 72.3,530.1 73.8,532.1 75.3,529.0 76.0,531.7 77.1,529.7 78.4,523.1 79.6,525.1 80.9,519.1 82.3,513.1 83.4,508.4 84.6,507.9 85.6,499.0 87.1,490.1 87.9,501.8 89.6,468.8 90.4,468.7 91.6,476.8 93.2,458.8 93.9,456.4 95.4,456.8 96.4,450.8 97.6,448.0 99.2,453.7 100.5,442.3 101.3,430.2 102.8,444.1 103.6,438.3 105.3,435.3 106.1,445.4 107.1,454.3 108.5,456.3 109.8,456.4 110.8,451.1 112.1,445.3 113.6,453.2 114.7,451.5 115.6,449.1 117.1,463.5 118.0,460.1 119.7,475.5 120.3,466.1 122.1,473.0 122.8,480.4 124.1,481.6 125.2,482.0 126.6,482.2 127.7,487.2 128.8,505.8 130.5,509.7 131.4,509.3 132.5,501.5 133.5,500.3 134.7,514.9 136.2,513.3 137.4,510.4 138.5,512.7 139.8,518.3 140.9,521.0 142.4,522.3 143.2,517.8 144.8,520.6 145.9,520.4 147.0,519.1 148.1,525.1 149.2,523.9 150.6,528.0 151.9,529.2 153.3,528.9 154.4,528.2 155.1,528.1 156.8,528.8 157.5,530.7 159.2,532.4 159.9,532.1 161.5,532.3 162.9,532.4 163.9,532.4 165.1,532.3 165.9,532.3 167.1,532.2 168.8,532.1 169.8,532.1 171.0,532.2" fill="none" stroke="#000" stroke-width="0.95" stroke-linejoin="miter" stroke-miterlimit="3" />
<polyline points="69.0,532.1 70.4,531.4 72.3,531.5 74.5,532.1 75.8,531.6 78.1,530.2 79.4,529.4 82.0,522.4 83.8,520.0 85.2,511.9 87.1,499.2 89.0,496.6 90.8,489.8 92.3,476.8 94.4,482.3 95.9,476.6 98.2,463.5 99.8,461.9 101.3,458.7 103.5,462.1 104.9,446.3 106.4,453.0 108.4,454.4 110.3,454.8 112.4,454.1 114.1,463.9 115.5,469.7 117.9,472.4 119.7,472.0 121.1,485.4 123.0,486.1 125.1,495.1 126.6,492.5 128.6,491.6 129.8,502.1 132.0,504.5 133.7,507.6 135.4,511.5 137.7,513.3 138.8,518.5 141.0,521.6 142.4,523.0 144.6,523.8 146.7,527.3 148.1,527.1 150.4,528.0 151.5,524.6 153.3,528.6 155.7,529.9 157.3,528.2 159.2,530.1 160.8,531.5 162.6,530.2 164.8,530.7 166.1,531.4 168.0,532.4 170.0,531.8 171.5,531.9" fill="none" stroke="#000" stroke-width="2.4" stroke-linejoin="miter" stroke-miterlimit="3" />
<path d="M498.30,373.20 L321.00,373.20 L321.00,534.30 L498.30,534.30" fill="none" stroke="#1a1a1a" stroke-width="1.3" stroke-linecap="square"/>
<line x1="498.30" y1="373.20" x2="498.30" y2="534.30" stroke="#3a3a3a" stroke-width="1.3" />
<line x1="316.80" y1="533.40" x2="321.00" y2="533.40" stroke="#1a1a1a" stroke-width="1.1" />
<text x="313.60" y="536.29" font-size="10.3" text-anchor="end" style="stroke-width:0.22px">0</text>
<line x1="316.80" y1="501.40" x2="321.00" y2="501.40" stroke="#1a1a1a" stroke-width="1.1" />
<text x="313.60" y="505.69" font-size="10.3" text-anchor="end" textLength="11.00" lengthAdjust="spacingAndGlyphs" style="stroke-width:0.22px">40</text>
<line x1="316.80" y1="469.40" x2="321.00" y2="469.40" stroke="#1a1a1a" stroke-width="1.1" />
<text x="313.60" y="472.49" font-size="10.3" text-anchor="end" textLength="11.00" lengthAdjust="spacingAndGlyphs" style="stroke-width:0.22px">80</text>
<line x1="316.80" y1="437.40" x2="321.00" y2="437.40" stroke="#1a1a1a" stroke-width="1.1" />
<text x="313.60" y="439.29" font-size="10.3" text-anchor="end" textLength="16.49" lengthAdjust="spacingAndGlyphs" style="stroke-width:0.22px">120</text>
<line x1="316.80" y1="405.40" x2="321.00" y2="405.40" stroke="#1a1a1a" stroke-width="1.1" />
<text x="313.60" y="409.29" font-size="10.3" text-anchor="end" textLength="16.49" lengthAdjust="spacingAndGlyphs" style="stroke-width:0.22px">160</text>
<line x1="316.80" y1="373.40" x2="321.00" y2="373.40" stroke="#1a1a1a" stroke-width="1.1" />
<text x="313.60" y="377.49" font-size="10.3" text-anchor="end" textLength="16.49" lengthAdjust="spacingAndGlyphs" style="stroke-width:0.22px">200</text>
<line x1="318.70" y1="533.40" x2="321.00" y2="533.40" stroke="#222" stroke-width="1.0" />
<line x1="318.70" y1="527.00" x2="321.00" y2="527.00" stroke="#222" stroke-width="1.0" />
<line x1="318.70" y1="520.60" x2="321.00" y2="520.60" stroke="#222" stroke-width="1.0" />
<line x1="318.70" y1="514.20" x2="321.00" y2="514.20" stroke="#222" stroke-width="1.0" />
<line x1="318.70" y1="507.80" x2="321.00" y2="507.80" stroke="#222" stroke-width="1.0" />
<line x1="318.70" y1="501.40" x2="321.00" y2="501.40" stroke="#222" stroke-width="1.0" />
<line x1="318.70" y1="495.00" x2="321.00" y2="495.00" stroke="#222" stroke-width="1.0" />
<line x1="318.70" y1="488.60" x2="321.00" y2="488.60" stroke="#222" stroke-width="1.0" />
<line x1="318.70" y1="482.20" x2="321.00" y2="482.20" stroke="#222" stroke-width="1.0" />
<line x1="318.70" y1="475.80" x2="321.00" y2="475.80" stroke="#222" stroke-width="1.0" />
<line x1="318.70" y1="469.40" x2="321.00" y2="469.40" stroke="#222" stroke-width="1.0" />
<line x1="318.70" y1="463.00" x2="321.00" y2="463.00" stroke="#222" stroke-width="1.0" />
<line x1="318.70" y1="456.60" x2="321.00" y2="456.60" stroke="#222" stroke-width="1.0" />
<line x1="318.70" y1="450.20" x2="321.00" y2="450.20" stroke="#222" stroke-width="1.0" />
<line x1="318.70" y1="443.80" x2="321.00" y2="443.80" stroke="#222" stroke-width="1.0" />
<line x1="318.70" y1="437.40" x2="321.00" y2="437.40" stroke="#222" stroke-width="1.0" />
<line x1="318.70" y1="431.00" x2="321.00" y2="431.00" stroke="#222" stroke-width="1.0" />
<line x1="318.70" y1="424.60" x2="321.00" y2="424.60" stroke="#222" stroke-width="1.0" />
<line x1="318.70" y1="418.20" x2="321.00" y2="418.20" stroke="#222" stroke-width="1.0" />
<line x1="318.70" y1="411.80" x2="321.00" y2="411.80" stroke="#222" stroke-width="1.0" />
<line x1="318.70" y1="405.40" x2="321.00" y2="405.40" stroke="#222" stroke-width="1.0" />
<line x1="318.70" y1="399.00" x2="321.00" y2="399.00" stroke="#222" stroke-width="1.0" />
<line x1="318.70" y1="392.60" x2="321.00" y2="392.60" stroke="#222" stroke-width="1.0" />
<line x1="318.70" y1="386.20" x2="321.00" y2="386.20" stroke="#222" stroke-width="1.0" />
<line x1="318.70" y1="379.80" x2="321.00" y2="379.80" stroke="#222" stroke-width="1.0" />
<line x1="318.70" y1="373.40" x2="321.00" y2="373.40" stroke="#222" stroke-width="1.0" />
<line x1="321.30" y1="534.30" x2="321.30" y2="537.90" stroke="#1a1a1a" stroke-width="1.1" />
<text x="321.40" y="550.59" font-size="10.3" text-anchor="middle" style="stroke-width:0.22px">0</text>
<line x1="354.95" y1="534.30" x2="354.95" y2="537.90" stroke="#1a1a1a" stroke-width="1.1" />
<text x="355.00" y="550.59" font-size="10.3" text-anchor="middle" textLength="17.18" lengthAdjust="spacingAndGlyphs" style="stroke-width:0.22px">200</text>
<line x1="388.60" y1="534.30" x2="388.60" y2="537.90" stroke="#1a1a1a" stroke-width="1.1" />
<text x="387.80" y="550.59" font-size="10.3" text-anchor="middle" textLength="17.18" lengthAdjust="spacingAndGlyphs" style="stroke-width:0.22px">400</text>
<line x1="422.25" y1="534.30" x2="422.25" y2="537.90" stroke="#1a1a1a" stroke-width="1.1" />
<text x="421.10" y="550.59" font-size="10.3" text-anchor="middle" textLength="17.18" lengthAdjust="spacingAndGlyphs" style="stroke-width:0.22px">600</text>
<line x1="455.90" y1="534.30" x2="455.90" y2="537.90" stroke="#1a1a1a" stroke-width="1.1" />
<text x="453.10" y="550.59" font-size="10.3" text-anchor="middle" textLength="17.18" lengthAdjust="spacingAndGlyphs" style="stroke-width:0.22px">800</text>
<line x1="489.55" y1="534.30" x2="489.55" y2="537.90" stroke="#1a1a1a" stroke-width="1.1" />
<text x="489.60" y="550.59" font-size="10.3" text-anchor="middle" textLength="22.91" lengthAdjust="spacingAndGlyphs" style="stroke-width:0.22px">1000</text>
<line x1="321.30" y1="534.30" x2="321.30" y2="536.70" stroke="#222" stroke-width="1.0" />
<line x1="328.03" y1="534.30" x2="328.03" y2="536.70" stroke="#222" stroke-width="1.0" />
<line x1="334.76" y1="534.30" x2="334.76" y2="536.70" stroke="#222" stroke-width="1.0" />
<line x1="341.49" y1="534.30" x2="341.49" y2="536.70" stroke="#222" stroke-width="1.0" />
<line x1="348.22" y1="534.30" x2="348.22" y2="536.70" stroke="#222" stroke-width="1.0" />
<line x1="354.95" y1="534.30" x2="354.95" y2="536.70" stroke="#222" stroke-width="1.0" />
<line x1="361.68" y1="534.30" x2="361.68" y2="536.70" stroke="#222" stroke-width="1.0" />
<line x1="368.41" y1="534.30" x2="368.41" y2="536.70" stroke="#222" stroke-width="1.0" />
<line x1="375.14" y1="534.30" x2="375.14" y2="536.70" stroke="#222" stroke-width="1.0" />
<line x1="381.87" y1="534.30" x2="381.87" y2="536.70" stroke="#222" stroke-width="1.0" />
<line x1="388.60" y1="534.30" x2="388.60" y2="536.70" stroke="#222" stroke-width="1.0" />
<line x1="395.33" y1="534.30" x2="395.33" y2="536.70" stroke="#222" stroke-width="1.0" />
<line x1="402.06" y1="534.30" x2="402.06" y2="536.70" stroke="#222" stroke-width="1.0" />
<line x1="408.79" y1="534.30" x2="408.79" y2="536.70" stroke="#222" stroke-width="1.0" />
<line x1="415.52" y1="534.30" x2="415.52" y2="536.70" stroke="#222" stroke-width="1.0" />
<line x1="422.25" y1="534.30" x2="422.25" y2="536.70" stroke="#222" stroke-width="1.0" />
<line x1="428.98" y1="534.30" x2="428.98" y2="536.70" stroke="#222" stroke-width="1.0" />
<line x1="435.71" y1="534.30" x2="435.71" y2="536.70" stroke="#222" stroke-width="1.0" />
<line x1="442.44" y1="534.30" x2="442.44" y2="536.70" stroke="#222" stroke-width="1.0" />
<line x1="449.17" y1="534.30" x2="449.17" y2="536.70" stroke="#222" stroke-width="1.0" />
<line x1="455.90" y1="534.30" x2="455.90" y2="536.70" stroke="#222" stroke-width="1.0" />
<line x1="462.63" y1="534.30" x2="462.63" y2="536.70" stroke="#222" stroke-width="1.0" />
<line x1="469.36" y1="534.30" x2="469.36" y2="536.70" stroke="#222" stroke-width="1.0" />
<line x1="476.09" y1="534.30" x2="476.09" y2="536.70" stroke="#222" stroke-width="1.0" />
<line x1="482.82" y1="534.30" x2="482.82" y2="536.70" stroke="#222" stroke-width="1.0" />
<line x1="489.55" y1="534.30" x2="489.55" y2="536.70" stroke="#222" stroke-width="1.0" />
<line x1="496.28" y1="534.30" x2="496.28" y2="536.70" stroke="#222" stroke-width="1.0" />
<text x="384.50" y="368.50" font-size="13.6" textLength="48.50" lengthAdjust="spacingAndGlyphs">HMVEC</text>
<text x="430.50" y="388.20" font-size="10.8" textLength="56.50" lengthAdjust="spacingAndGlyphs">Notch1-Fc</text>
<text transform="translate(290.10,457.00) rotate(-90)" font-size="15.8" text-anchor="middle" textLength="86.00" lengthAdjust="spacingAndGlyphs">Cell counts</text>
<line x1="311.00" y1="555.80" x2="497.00" y2="555.80" stroke="#000" stroke-width="2.5" />
<polygon points="503.00,555.80 496.00,552.20 496.00,559.40" fill="#000"/>
<text x="376.50" y="574.00" font-size="16.5" textLength="69.50" lengthAdjust="spacingAndGlyphs">MHD4-46</text>
<polyline points="322.0,533.7 323.5,533.6 324.9,533.5 326.1,533.4 327.4,533.0 328.4,533.2 330.0,533.2 331.2,533.1 332.3,532.9 333.8,532.9 334.9,532.6 336.5,531.0 337.4,529.3 338.9,527.7 340.0,526.6 341.6,521.7 342.8,520.3 344.1,515.6 345.4,511.5 346.8,509.8 348.3,508.4 349.3,506.4 350.9,503.9 351.8,503.2 353.0,500.9 354.2,499.6 355.5,499.7 357.2,500.4 358.5,502.4 359.6,497.2 360.7,498.9 362.5,496.2 363.8,498.1 364.7,497.0 366.0,495.2 367.6,497.0 368.8,493.9 370.3,495.9 371.6,495.6 372.8,495.4 373.9,498.8 375.6,498.7 376.4,501.2 377.9,502.0 379.3,500.0 380.4,504.2 381.5,502.8 382.8,503.7 384.6,505.8 385.9,507.1 387.0,504.0 388.2,511.3 389.6,510.4 391.0,512.6 392.3,511.0 393.8,513.7 394.8,514.2 396.2,514.6 397.2,518.2 398.6,516.5 399.8,517.6 401.1,517.6 402.8,517.3 404.2,519.0 405.0,519.6 406.2,519.6 407.7,522.4 409.3,523.4 410.1,522.3 412.0,523.5 412.7,524.5 414.1,524.3 415.6,522.5 416.8,525.4 418.4,527.6 419.7,526.4 421.0,528.6 422.0,525.2 423.6,528.1 424.4,527.1 426.1,527.2 427.3,529.3 428.5,528.3 429.8,527.4 431.1,529.4 432.7,529.7 434.0,530.3 435.4,529.8 436.2,530.8 437.7,532.0 438.9,531.8 440.5,530.8 441.5,531.1 442.8,532.0 444.3,532.9 445.6,532.2 446.5,532.5 448.4,532.5 449.6,532.2 450.9,533.0 452.0,532.3 453.3,531.7 454.4,532.2 456.2,532.8 456.9,533.2 458.7,532.4 459.6,531.4 461.3,532.5 462.4,533.0 463.5,531.8 465.3,533.3 466.6,532.9 467.7,532.7 469.1,533.7 470.3,533.5 471.3,532.2 472.7,533.0 474.2,532.4 475.3,533.7 477.0,532.9 478.1,533.0 479.6,533.1 480.8,533.2 482.0,533.5 483.4,532.7 484.7,532.6 486.0,533.1 487.0,532.2 488.1,533.6 489.7,533.0 490.8,532.8 492.5,532.0 493.6,532.6 495.2,533.7 496.5,532.7" fill="none" stroke="#000" stroke-width="1.25" stroke-linejoin="miter" stroke-miterlimit="3" stroke-dasharray="1.4 1.3"/>
<line x1="497.60" y1="510.00" x2="497.60" y2="533.70" stroke="#111" stroke-width="1.4" stroke-dasharray="1.2 0.8"/>
<polyline points="322.0,533.4 323.2,533.7 324.7,533.3 325.4,532.4 326.7,532.6 327.7,529.1 329.2,526.4 330.4,526.0 331.8,519.7 332.7,517.9 334.0,514.8 335.1,507.4 336.2,507.3 337.8,498.4 339.0,497.6 340.1,492.3 341.5,493.7 342.5,482.1 343.4,492.3 344.8,488.6 346.3,481.5 347.3,475.2 348.6,484.7 349.8,475.9 350.9,486.2 352.0,482.9 353.0,476.7 354.5,480.6 355.8,486.4 356.5,481.7 358.2,479.4 359.1,492.0 360.1,501.9 361.7,487.7 362.9,500.5 364.2,500.5 365.3,506.4 366.4,494.3 367.7,504.0 369.0,505.4 370.1,505.3 371.2,509.9 372.6,504.8 373.8,509.1 375.1,515.7 375.9,516.1 377.2,516.6 378.1,519.6 379.9,516.3 380.6,519.8 381.8,518.5 383.4,521.8 384.6,521.7 385.6,521.7 387.0,519.2 387.8,526.7 389.3,529.7 390.3,528.2 391.8,529.5 392.7,526.9 394.1,528.0 395.4,528.7 396.1,528.8 397.3,531.1 399.1,531.6 400.2,532.8 401.4,533.5 402.5,532.1 403.7,532.4 404.7,532.3 405.7,533.1 407.4,533.2 408.3,532.1 409.7,533.1 410.8,533.0 412.1,533.0 413.4,533.5 414.4,533.1 415.5,533.4 416.7,533.5 418.0,533.6" fill="none" stroke="#000" stroke-width="0.95" stroke-linejoin="miter" stroke-miterlimit="3" />
<polyline points="322.0,533.0 323.9,533.7 325.4,532.5 327.1,533.7 329.1,529.4 330.7,526.5 333.0,525.0 334.5,519.9 336.5,507.9 338.1,503.3 339.9,507.8 341.5,497.9 343.6,488.8 345.5,482.7 346.9,481.0 349.0,487.4 350.6,480.7 352.8,483.3 354.3,485.6 356.5,482.7 358.0,489.8 359.8,487.1 361.5,500.3 363.8,498.8 365.2,500.1 367.1,503.5 368.4,507.7 370.8,509.9 372.3,517.0 374.1,515.8 375.8,517.1 378.2,518.6 379.8,524.5 381.4,524.5 383.0,523.8 385.0,527.6 386.9,529.8 388.8,531.1 390.7,531.9 392.5,531.1 393.6,531.4 395.9,532.1 397.4,532.8 399.4,532.1 401.6,532.9 403.3,532.2 404.6,532.8 406.6,533.6 408.0,533.4 410.3,533.5 411.7,533.6" fill="none" stroke="#000" stroke-width="2.4" stroke-linejoin="miter" stroke-miterlimit="3" />
<text x="1.20" y="619.20" font-size="23">D</text>
<line x1="45.60" y1="626.20" x2="45.60" y2="826.00" stroke="#000" stroke-width="1.8" />
<line x1="44.70" y1="825.00" x2="244.00" y2="825.00" stroke="#000" stroke-width="2.0" />
<line x1="41.60" y1="627.00" x2="45.60" y2="627.00" stroke="#000" stroke-width="1.5" />
<text x="40.20" y="631.50" font-size="12.2" text-anchor="end" textLength="16.80" lengthAdjust="spacingAndGlyphs" style="stroke-width:0.25px">1.6</text>
<line x1="41.60" y1="666.60" x2="45.60" y2="666.60" stroke="#000" stroke-width="1.5" />
<text x="40.20" y="671.10" font-size="12.2" text-anchor="end" textLength="16.80" lengthAdjust="spacingAndGlyphs" style="stroke-width:0.25px">1.3</text>
<line x1="41.60" y1="706.20" x2="45.60" y2="706.20" stroke="#000" stroke-width="1.5" />
<text x="40.20" y="710.70" font-size="12.2" text-anchor="end" textLength="16.80" lengthAdjust="spacingAndGlyphs" style="stroke-width:0.25px">1.0</text>
<line x1="41.60" y1="745.80" x2="45.60" y2="745.80" stroke="#000" stroke-width="1.5" />
<text x="40.20" y="750.30" font-size="12.2" text-anchor="end" textLength="16.80" lengthAdjust="spacingAndGlyphs" style="stroke-width:0.25px">0.7</text>
<line x1="41.60" y1="785.40" x2="45.60" y2="785.40" stroke="#000" stroke-width="1.5" />
<text x="40.20" y="789.90" font-size="12.2" text-anchor="end" textLength="16.80" lengthAdjust="spacingAndGlyphs" style="stroke-width:0.25px">0.4</text>
<line x1="41.60" y1="825.00" x2="45.60" y2="825.00" stroke="#000" stroke-width="1.5" />
<text x="40.20" y="829.50" font-size="12.2" text-anchor="end" textLength="16.80" lengthAdjust="spacingAndGlyphs" style="stroke-width:0.25px">0.1</text>
<text transform="translate(14.60,727.40) rotate(-90)" font-size="13.2" text-anchor="middle" textLength="188.00" lengthAdjust="spacingAndGlyphs">Cell number (O.D. 450 - 620)</text>
<text x="113.50" y="626.60" font-size="14" textLength="47.20" lengthAdjust="spacingAndGlyphs">HUVEC</text>
<rect x="53.50" y="720.30" width="33.50" height="104.70" fill="#000" stroke="#000" stroke-width="1.9"/>
<line x1="70.25" y1="717.60" x2="70.25" y2="720.30" stroke="#000" stroke-width="1.4" />
<line x1="61.25" y1="717.60" x2="79.25" y2="717.60" stroke="#000" stroke-width="1.4" />
<rect x="103.50" y="699.00" width="31.80" height="126.00" fill="url(#hL)" stroke="#000" stroke-width="1.9"/>
<line x1="119.40" y1="694.60" x2="119.40" y2="699.00" stroke="#000" stroke-width="1.4" />
<line x1="111.15" y1="694.60" x2="127.65" y2="694.60" stroke="#000" stroke-width="1.4" />
<rect x="152.80" y="697.00" width="32.50" height="128.00" fill="#fff" stroke="#000" stroke-width="1.9"/>
<line x1="169.05" y1="689.40" x2="169.05" y2="697.00" stroke="#000" stroke-width="1.4" />
<line x1="160.80" y1="689.40" x2="177.30" y2="689.40" stroke="#000" stroke-width="1.4" />
<rect x="201.80" y="663.40" width="33.00" height="161.60" fill="url(#chk)" stroke="#000" stroke-width="1.9"/>
<line x1="218.30" y1="658.20" x2="218.30" y2="663.40" stroke="#000" stroke-width="1.4" />
<line x1="210.05" y1="658.20" x2="226.55" y2="658.20" stroke="#000" stroke-width="1.4" />
<text x="117.50" y="697.00" font-size="25.5" text-anchor="middle" font-weight="normal" font-family='"Liberation Serif", "Times New Roman", serif' fill="#1a1a1a" style="stroke:none">*</text>
<text x="167.30" y="691.50" font-size="25.5" text-anchor="middle" font-weight="normal" font-family='"Liberation Serif", "Times New Roman", serif' fill="#1a1a1a" style="stroke:none">*</text>
<text x="203.00" y="655.00" font-size="25.5" text-anchor="middle" font-weight="normal" font-family='"Liberation Serif", "Times New Roman", serif' fill="#1a1a1a" style="stroke:none">*</text>
<text x="216.60" y="648.40" font-size="24" text-anchor="middle" font-weight="normal" font-family='"Liberation Serif", "Times New Roman", serif' fill="#1a1a1a" style="stroke:none">§</text>
<text x="229.00" y="649.20" font-size="23" text-anchor="middle" font-weight="normal" font-family='"Liberation Serif", "Times New Roman", serif' fill="#1a1a1a" style="stroke:none">†</text>
<text x="46.60" y="843.20" font-size="11.4" textLength="40.00" lengthAdjust="spacingAndGlyphs">Control</text>
<text x="103.80" y="843.80" font-size="11.4" textLength="30.80" lengthAdjust="spacingAndGlyphs">VEGF</text>
<text x="143.80" y="843.10" font-size="11.4" textLength="48.60" lengthAdjust="spacingAndGlyphs">MHD4-46</text>
<text x="197.00" y="839.80" font-size="11.4" textLength="49.00" lengthAdjust="spacingAndGlyphs">MHD4-46</text>
<text x="197.30" y="853.90" font-size="11.4" textLength="37.00" lengthAdjust="spacingAndGlyphs">+VEGF</text>
<line x1="313.30" y1="623.80" x2="313.30" y2="827.80" stroke="#000" stroke-width="1.8" />
<line x1="312.40" y1="826.80" x2="514.00" y2="826.80" stroke="#000" stroke-width="2.0" />
<line x1="309.30" y1="624.60" x2="313.30" y2="624.60" stroke="#000" stroke-width="1.5" />
<text x="307.90" y="628.40" font-size="10.3" text-anchor="end" textLength="12.30" lengthAdjust="spacingAndGlyphs" style="stroke-width:0.15px">1.1</text>
<line x1="309.30" y1="665.04" x2="313.30" y2="665.04" stroke="#000" stroke-width="1.5" />
<text x="307.90" y="668.84" font-size="10.3" text-anchor="end" textLength="12.30" lengthAdjust="spacingAndGlyphs" style="stroke-width:0.15px">0.9</text>
<line x1="309.30" y1="705.48" x2="313.30" y2="705.48" stroke="#000" stroke-width="1.5" />
<text x="307.90" y="709.28" font-size="10.3" text-anchor="end" textLength="12.30" lengthAdjust="spacingAndGlyphs" style="stroke-width:0.15px">0.7</text>
<line x1="309.30" y1="745.92" x2="313.30" y2="745.92" stroke="#000" stroke-width="1.5" />
<text x="307.90" y="749.72" font-size="10.3" text-anchor="end" textLength="12.30" lengthAdjust="spacingAndGlyphs" style="stroke-width:0.15px">0.5</text>
<line x1="309.30" y1="786.36" x2="313.30" y2="786.36" stroke="#000" stroke-width="1.5" />
<text x="307.90" y="790.16" font-size="10.3" text-anchor="end" textLength="12.30" lengthAdjust="spacingAndGlyphs" style="stroke-width:0.15px">0.3</text>
<line x1="309.30" y1="826.80" x2="313.30" y2="826.80" stroke="#000" stroke-width="1.5" />
<text x="307.90" y="830.60" font-size="10.3" text-anchor="end" textLength="12.30" lengthAdjust="spacingAndGlyphs" style="stroke-width:0.15px">0.1</text>
<text transform="translate(286.70,727.80) rotate(-90)" font-size="15.2" text-anchor="middle" textLength="190.50" lengthAdjust="spacingAndGlyphs">Cell number (O.D. 450 - 650)</text>
<text x="391.00" y="626.80" font-size="14" textLength="48.70" lengthAdjust="spacingAndGlyphs">HMVEC</text>
<rect x="321.30" y="715.20" width="34.00" height="111.60" fill="#000" stroke="#000" stroke-width="1.9"/>
<line x1="338.30" y1="714.30" x2="338.30" y2="715.20" stroke="#000" stroke-width="1.4" />
<line x1="329.80" y1="714.30" x2="346.80" y2="714.30" stroke="#000" stroke-width="1.4" />
<rect x="371.80" y="666.60" width="33.20" height="160.20" fill="url(#hM)" stroke="#000" stroke-width="1.9"/>
<line x1="388.40" y1="656.40" x2="388.40" y2="666.60" stroke="#000" stroke-width="1.4" />
<line x1="379.65" y1="656.40" x2="397.15" y2="656.40" stroke="#000" stroke-width="1.4" />
<rect x="422.30" y="692.40" width="33.00" height="134.40" fill="#fff" stroke="#000" stroke-width="1.9"/>
<line x1="438.80" y1="691.80" x2="438.80" y2="692.40" stroke="#000" stroke-width="1.4" />
<line x1="430.30" y1="691.80" x2="447.30" y2="691.80" stroke="#000" stroke-width="1.4" />
<rect x="472.50" y="635.80" width="33.30" height="191.00" fill="url(#hD)" stroke="#000" stroke-width="1.9"/>
<line x1="489.15" y1="634.60" x2="489.15" y2="635.80" stroke="#000" stroke-width="1.4" />
<line x1="480.15" y1="634.60" x2="498.15" y2="634.60" stroke="#000" stroke-width="1.4" />
<text x="385.75" y="657.00" font-size="25.5" text-anchor="middle" font-weight="normal" font-family='"Liberation Serif", "Times New Roman", serif' fill="#1a1a1a" style="stroke:none">*</text>
<text x="430.00" y="691.50" font-size="25.5" text-anchor="middle" font-weight="normal" font-family='"Liberation Serif", "Times New Roman", serif' fill="#1a1a1a" style="stroke:none">*</text>
<text x="438.60" y="684.40" font-size="24" font-weight="normal" textLength="9.20" lengthAdjust="spacingAndGlyphs" font-family='"Liberation Serif", "Times New Roman", serif' fill="#1a1a1a" style="stroke:none">¶</text>
<text x="475.25" y="634.00" font-size="25.5" text-anchor="middle" font-weight="normal" font-family='"Liberation Serif", "Times New Roman", serif' fill="#1a1a1a" style="stroke:none">*</text>
<text x="487.75" y="628.40" font-size="24" text-anchor="middle" font-weight="normal" font-family='"Liberation Serif", "Times New Roman", serif' fill="#1a1a1a" style="stroke:none">§</text>
<text x="499.40" y="629.20" font-size="23" text-anchor="middle" font-weight="normal" font-family='"Liberation Serif", "Times New Roman", serif' fill="#1a1a1a" style="stroke:none">†</text>
<text x="318.90" y="843.60" font-size="11.4" textLength="40.40" lengthAdjust="spacingAndGlyphs">Control</text>
<text x="375.50" y="844.30" font-size="11.4" textLength="30.80" lengthAdjust="spacingAndGlyphs">VEGF</text>
<text x="416.30" y="843.70" font-size="11.4" textLength="48.70" lengthAdjust="spacingAndGlyphs">MHD4-46</text>
<text x="468.80" y="839.90" font-size="11.4" textLength="49.00" lengthAdjust="spacingAndGlyphs">MHD4-46</text>
<text x="469.30" y="854.00" font-size="11.4" textLength="36.50" lengthAdjust="spacingAndGlyphs">+VEGF</text>
</g>
</svg>
</body></html>
